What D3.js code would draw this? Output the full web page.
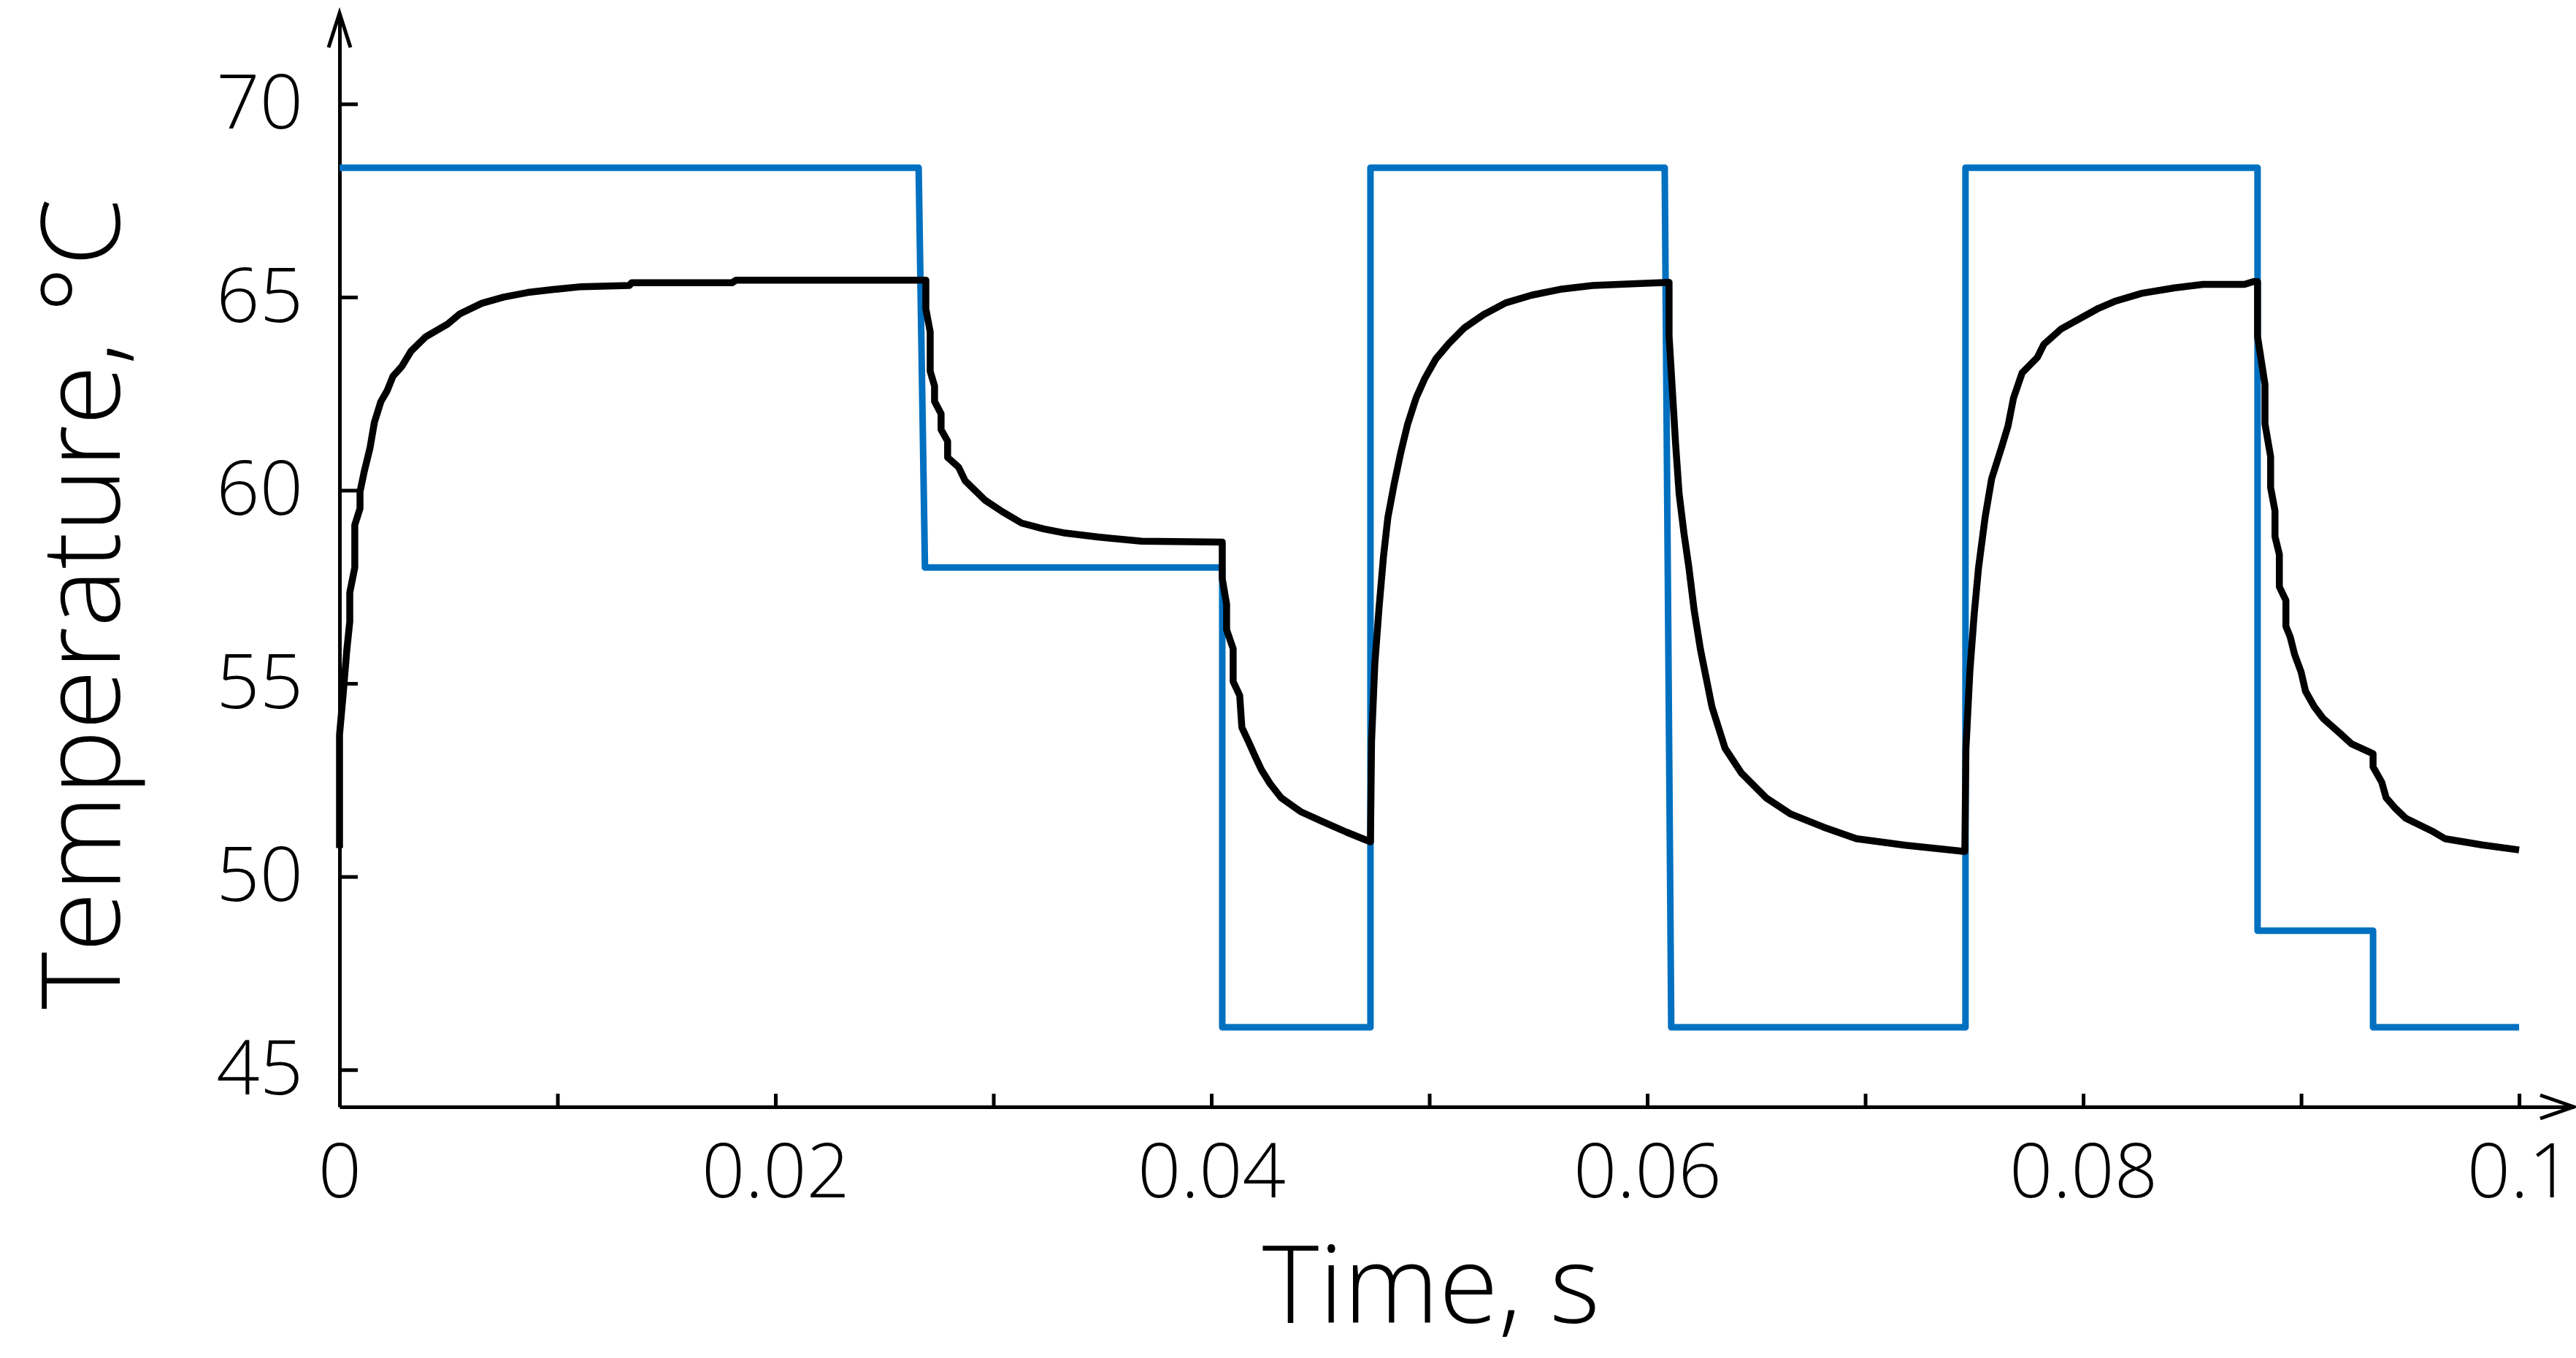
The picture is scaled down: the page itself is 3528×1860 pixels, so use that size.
<!DOCTYPE html>
<html>
<head>
<meta charset="UTF-8">
<title>Temperature vs time</title>
<style>
  body { margin: 0; background: #fff; }
  svg text { font-family: "Open Sans", "Noto Sans", sans-serif; font-weight: 300; fill: #000; }
</style>
</head>
<body>
<svg id="chart" width="3528" height="1860"></svg>

<script src="https://cdn.jsdelivr.net/npm/d3@7"></script>
<script>
  "use strict";

  // set temperature (blue), [time s, °C]
  var setpoint = [
    [0, 68.35], [0.02657, 68.35], [0.02686, 58.0], [0.0405, 58.0], [0.0405, 46.1],
    [0.0473, 46.1], [0.0473, 68.35], [0.0608, 68.35], [0.0611, 46.1], [0.0746, 46.1],
    [0.0746, 68.35], [0.0880, 68.35], [0.0880, 48.6], [0.0933, 48.6], [0.0933, 46.1],
    [0.1, 46.1]
  ];

  // measured temperature (black), [time s, °C]
  var measured = [
    [0, 50.74], [0, 53.67], [0.00017, 54.74], [0.00033, 55.84], [0.00047, 56.6], [0.00047, 57.35],
    [0.0007, 58.0], [0.0007, 59.1], [0.00094, 59.53], [0.00094, 59.96], [0.00114, 60.5],
    [0.0014, 61.1], [0.0016, 61.76], [0.0019, 62.3], [0.00218, 62.57], [0.00245, 62.95],
    [0.00285, 63.2], [0.00328, 63.6], [0.00395, 63.97], [0.00496, 64.3], [0.00553, 64.57],
    [0.00653, 64.84], [0.00754, 65.0], [0.00864, 65.12], [0.00988, 65.2], [0.0111, 65.27],
    [0.0133, 65.3], [0.0134, 65.37], [0.0180, 65.37], [0.0182, 65.44], [0.0269, 65.44],
    [0.0269, 64.7], [0.0271, 64.1], [0.0271, 63.08], [0.0273, 62.7], [0.0273, 62.3],
    [0.0276, 61.98], [0.0276, 61.57], [0.0279, 61.27], [0.0279, 60.85], [0.0284, 60.6],
    [0.0287, 60.25], [0.0296, 59.75], [0.0304, 59.45], [0.0313, 59.15], [0.0323, 59.0],
    [0.0332, 58.9], [0.0348, 58.79], [0.0368, 58.68], [0.0405, 58.66],
    [0.0405, 57.71], [0.0407, 57.05], [0.0407, 56.39], [0.0410, 55.9], [0.0410, 55.05],
    [0.0413, 54.69], [0.0414, 53.86], [0.0417, 53.5], [0.0420, 53.12], [0.0423, 52.76],
    [0.0427, 52.4], [0.0432, 52.04], [0.0441, 51.68], [0.0452, 51.4], [0.0462, 51.15],
    [0.0473, 50.9],
    [0.04735, 53.5], [0.0475, 55.5], [0.0477, 57.0], [0.0479, 58.3], [0.0481, 59.3],
    [0.0484, 60.2], [0.0487, 61.0], [0.0490, 61.7], [0.0494, 62.4], [0.0498, 62.9],
    [0.0503, 63.4], [0.0509, 63.8], [0.0516, 64.2], [0.0525, 64.55], [0.0535, 64.85],
    [0.0547, 65.05], [0.0560, 65.2], [0.0575, 65.3], [0.0595, 65.35], [0.0610, 65.38],
    [0.0610, 64.0], [0.06115, 62.6], [0.0613, 61.2], [0.06146, 59.92], [0.06168, 58.9],
    [0.06191, 58.0], [0.06215, 56.9], [0.06244, 55.88], [0.06297, 54.39], [0.06357, 53.32],
    [0.06432, 52.68], [0.06545, 52.04], [0.06658, 51.62], [0.06809, 51.28], [0.0696, 50.98],
    [0.07186, 50.81], [0.07457, 50.65],
    [0.07462, 53.3], [0.0748, 55.3], [0.0750, 56.8], [0.0752, 58.0], [0.0755, 59.3],
    [0.0758, 60.3], [0.07625, 61.1], [0.07655, 61.66], [0.0768, 62.38], [0.0772, 63.04],
    [0.0779, 63.44], [0.0782, 63.78], [0.0790, 64.18], [0.0807, 64.71], [0.0815, 64.9],
    [0.0827, 65.1], [0.0842, 65.24], [0.0855, 65.33], [0.0874, 65.33], [0.0878, 65.4],
    [0.0880, 65.4],
    [0.0880, 63.98], [0.08834, 62.74], [0.08834, 61.72], [0.0886, 60.87], [0.0886, 60.07],
    [0.0888, 59.47], [0.0888, 58.8], [0.0890, 58.34], [0.0890, 57.5], [0.0893, 57.15],
    [0.0893, 56.48], [0.0895, 56.2], [0.0897, 55.75], [0.0900, 55.29], [0.0902, 54.8],
    [0.0906, 54.4], [0.0910, 54.1], [0.0918, 53.7], [0.0923, 53.44], [0.0933, 53.18],
    [0.0933, 52.84], [0.0937, 52.44], [0.0939, 52.04], [0.0943, 51.78], [0.0948, 51.51],
    [0.0960, 51.18], [0.0966, 50.98], [0.0983, 50.82], [0.1000, 50.69]
  ];

  var xTicks = [0, 0.01, 0.02, 0.03, 0.04, 0.05, 0.06, 0.07, 0.08, 0.09, 0.1];
  var xLabels = ["0", "", "0.02", "", "0.04", "", "0.06", "", "0.08", "", "0.1"];
  var yTicks = [45, 50, 55, 60, 65, 70];

  var svg = d3.select("#chart");

  var x = d3.scaleLinear().domain([0, 0.10251]).range([465, 3525]);
  var y = d3.scaleLinear().domain([44.04, 72.35]).range([1516, 18]);

  // axes
  var xAxis = d3.axisBottom(x)
    .tickValues(xTicks)
    .tickFormat(function(d, i){ return xLabels[i]; })
    .tickSizeInner(-18)
    .tickSizeOuter(0)
    .tickPadding(50);

  var yAxis = d3.axisLeft(y)
    .tickValues(yTicks)
    .tickFormat(d3.format("d"))
    .tickSizeInner(-25)
    .tickSizeOuter(0)
    .tickPadding(50);

  var gx = svg.append("g").attr("transform", "translate(0," + y.range()[0] + ")").call(xAxis);
  var gy = svg.append("g").attr("transform", "translate(" + x.range()[0] + ",0)").call(yAxis);

  [gx, gy].forEach(function(g){
    g.selectAll(".domain").attr("stroke", "#000").attr("stroke-width", 5);
    g.selectAll(".tick line").attr("stroke", "#000").attr("stroke-width", 5);
    g.selectAll(".tick text")
      .style("font-size", "104px")
      .style("font-family", "'Open Sans', 'Noto Sans', sans-serif")
      .style("font-weight", 300);
  });

  // arrow heads
  var x0 = x.range()[0], y0 = y.range()[0];
  var xEnd = x.range()[1], yEnd = y.range()[1];
  svg.append("path")
    .attr("d", "M" + (x0 - 15) + "," + (yEnd + 47) + "L" + x0 + "," + yEnd + "L" + (x0 + 15) + "," + (yEnd + 47))
    .attr("fill", "none").attr("stroke", "#000").attr("stroke-width", 5);
  svg.append("path")
    .attr("d", "M" + (xEnd - 46) + "," + (y0 - 16) + "L" + xEnd + "," + y0 + "L" + (xEnd - 46) + "," + (y0 + 16))
    .attr("fill", "none").attr("stroke", "#000").attr("stroke-width", 5);

  var line = d3.line()
    .x(function(d){ return x(d[0]); })
    .y(function(d){ return y(d[1]); });

  svg.append("path")
    .datum(setpoint)
    .attr("d", line)
    .attr("fill", "none")
    .attr("stroke", "#0070c0")
    .attr("stroke-width", 9)
    .attr("stroke-linejoin", "round");

  svg.append("path")
    .datum(measured)
    .attr("d", line)
    .attr("fill", "none")
    .attr("stroke", "#000")
    .attr("stroke-width", 9.5)
    .attr("stroke-linejoin", "round");

  // axis titles
  svg.append("text")
    .attr("x", 1960)
    .attr("y", 1812)
    .attr("text-anchor", "middle")
    .style("font-size", "148px")
    .text("Time, s");

  svg.append("text")
    .attr("transform", "translate(164,827) rotate(-90)")
    .attr("text-anchor", "middle")
    .style("font-size", "150px")
    .text("Temperature, °C");
</script>
</body>
</html>
